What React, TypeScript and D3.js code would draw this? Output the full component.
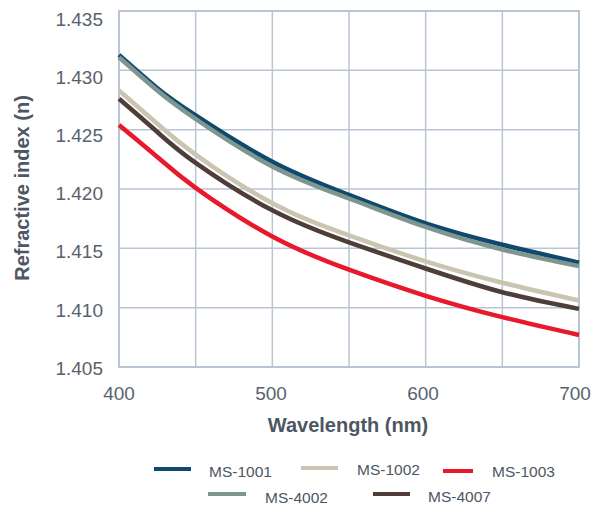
import React from "react";
import * as d3 from "d3";

const wavelengths = [400, 425, 450, 500, 550, 600, 650, 700];
const ms1001 = [1.4313, 1.4285, 1.4262, 1.4223, 1.4195, 1.4171, 1.4153, 1.4138];
const ms1002 = [1.4283, 1.4255, 1.4229, 1.4188, 1.4161, 1.4139, 1.4121, 1.4106];
const ms1003 = [1.4254, 1.4227, 1.4201, 1.4160, 1.4132, 1.4110, 1.4092, 1.4077];
const ms4002 = [1.4311, 1.4283, 1.4259, 1.4219, 1.4192, 1.4168, 1.4149, 1.4135];
const ms4007 = [1.4276, 1.4248, 1.4222, 1.4182, 1.4155, 1.4133, 1.4113, 1.4099];

const xTicks = [400, 500, 600, 700];
const xGrid = [450, 500, 550, 600, 650];
const yTicks = [1.405, 1.41, 1.415, 1.42, 1.425, 1.43, 1.435];

const series = [
  { name: "MS-1001", values: ms1001, color: "#0f4a6e" },
  { name: "MS-1002", values: ms1002, color: "#c9c5b0" },
  { name: "MS-1003", values: ms1003, color: "#e8192c" },
  { name: "MS-4002", values: ms4002, color: "#7f958f" },
  { name: "MS-4007", values: ms4007, color: "#4f3d3a" },
];

const legendPos: Record<string, { lx: number; ly: number; tx: number; ty: number; len: number }> = {
  "MS-1001": { lx: 154, ly: 469, tx: 209, ty: 477, len: 37 },
  "MS-1002": { lx: 301, ly: 468, tx: 357, ty: 475, len: 37 },
  "MS-1003": { lx: 443, ly: 471, tx: 492, ty: 477, len: 30 },
  "MS-4002": { lx: 208, ly: 494, tx: 265, ty: 503, len: 38 },
  "MS-4007": { lx: 373, ly: 494, tx: 428, ty: 502, len: 37 },
};

export default function App() {
  const W = 597, H = 505;
  const left = 119, right = 579, top = 11, bottom = 367;
  const x = d3.scaleLinear().domain([400, 700]).range([left, right]);
  const y = d3.scaleLinear().domain([1.405, 1.435]).range([bottom, top]);
  const yLab = d3.scaleLinear().domain([1.405, 1.435]).range([368, 19.5]);
  const xLab = d3.scaleLinear().domain([400, 700]).range([119, 575]);
  const line = d3
    .line<number>()
    .x((_, i) => x(wavelengths[i]))
    .y((d) => y(d))
    .curve(d3.curveNatural);
  const grid = "#b9c5d3";
  const font = "'Liberation Sans', Arial, sans-serif";
  return (
    <svg width={W} height={H} style={{ position: "absolute", left: 0, top: 0, background: "#fff" }} fontFamily={font}>
      {yTicks.map((t) => (
        <line key={"gy" + t} x1={left} x2={right} y1={y(t)} y2={y(t)} stroke={grid} strokeWidth={1.5} />
      ))}
      {xGrid.map((t) => (
        <line key={"gx" + t} x1={x(t)} x2={x(t)} y1={top} y2={bottom} stroke={grid} strokeWidth={1.5} />
      ))}
      <rect x={left} y={top} width={right - left} height={bottom - top} fill="none" stroke={grid} strokeWidth={2} />
      {series.map((s) => (
        <path key={s.name} d={line(s.values) || ""} fill="none" stroke={s.color} strokeWidth={4.5} />
      ))}
      {yTicks.map((t) => (
        <text key={"yl" + t} x={103} y={yLab(t)} dy="0.35em" textAnchor="end" fontSize={19} fill="#58626e">
          {d3.format(".3f")(t)}
        </text>
      ))}
      {xTicks.map((t) => (
        <text key={"xl" + t} x={xLab(t)} y={393} dy="0.35em" textAnchor="middle" fontSize={19} fill="#58626e">
          {t}
        </text>
      ))}
      <text x={348} y={425} dy="0.35em" textAnchor="middle" fontSize={20} fontWeight="bold" fill="#4d5663">
        Wavelength (nm)
      </text>
      <text
        transform="translate(22,188) rotate(-90)"
        dy="0.35em"
        textAnchor="middle"
        fontSize={20}
        fontWeight="bold"
        fill="#4d5663"
      >
        Refractive index (n)
      </text>
      {series.map((s) => {
        const p = legendPos[s.name];
        return (
          <g key={"lg" + s.name}>
            <line x1={p.lx} x2={p.lx + p.len} y1={p.ly} y2={p.ly} stroke={s.color} strokeWidth={4} />
            <text x={p.tx} y={p.ty} fontSize={15.5} fill="#4d5663">
              {s.name}
            </text>
          </g>
        );
      })}
    </svg>
  );
}
